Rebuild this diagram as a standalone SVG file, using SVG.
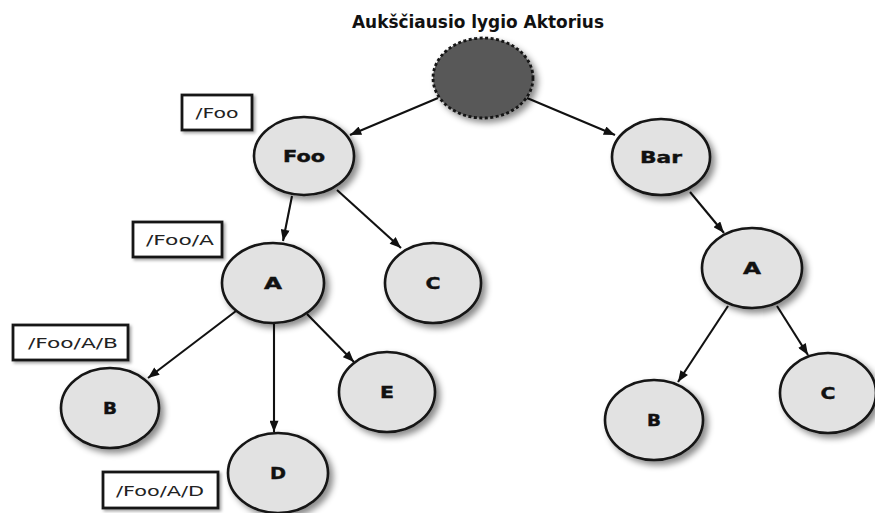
<svg xmlns="http://www.w3.org/2000/svg" width="875" height="513" viewBox="0 0 875 513">
  <defs>
    <filter id="shadow" x="-30%" y="-30%" width="160%" height="160%">
      <feDropShadow dx="4" dy="4" stdDeviation="3" flood-color="#000" flood-opacity="0.45"/>
    </filter>
    <filter id="boxshadow" x="-20%" y="-30%" width="140%" height="160%">
      <feDropShadow dx="2" dy="2" stdDeviation="1.5" flood-color="#000" flood-opacity="0.35"/>
    </filter>
    <marker id="arrow" viewBox="0 0 10 8" refX="10" refY="4" markerWidth="12" markerHeight="9" markerUnits="userSpaceOnUse" orient="auto">
      <path d="M0,0 L10,4 L0,8 Z" fill="#111"/>
    </marker>
  </defs>
  <style>
    .node ellipse { fill: #e2e2e2; stroke: #141414; stroke-width: 2.6; filter: url(#shadow); }
    .root ellipse { fill: #585858; stroke: #141414; stroke-width: 2.8; stroke-dasharray: 3 2.5; filter: url(#shadow); }
    .node text { font-family: "DejaVu Sans", "Liberation Sans", sans-serif; font-weight: bold; font-size: 16px; fill: #111; text-anchor: middle; stroke: #111; stroke-width: 0.4; }
    .path rect { fill: #fff; stroke: #141414; stroke-width: 2.8; filter: url(#boxshadow); }
    .path text { font-family: "DejaVu Sans", "Liberation Sans", sans-serif; font-size: 14.5px; fill: #222; text-anchor: middle; }
    .title { font-family: "DejaVu Sans", "Liberation Sans", sans-serif; font-weight: bold; font-size: 17px; fill: #111; text-anchor: middle; }
    .edges line { stroke: #111; stroke-width: 2.1; marker-end: url(#arrow); }
  </style>

  <rect width="875" height="513" fill="#fff"/>

  <text class="title" x="478" y="28" textLength="252" lengthAdjust="spacingAndGlyphs">Aukščiausio lygio Aktorius</text>

  <!-- connectors -->
  <g id="edges" class="edges">
    <line x1="438" y1="98" x2="350" y2="135"/>
    <line x1="527" y1="98" x2="615" y2="135"/>
    <line x1="292" y1="196" x2="283" y2="241"/>
    <line x1="337" y1="190" x2="401" y2="248"/>
    <line x1="690" y1="192" x2="724" y2="233"/>
    <line x1="236" y1="311" x2="148" y2="378"/>
    <line x1="274" y1="323" x2="274" y2="432"/>
    <line x1="307" y1="314" x2="354" y2="362"/>
    <line x1="728" y1="306" x2="678" y2="382"/>
    <line x1="777" y1="306" x2="808" y2="355"/>
  </g>

  <!-- actor nodes -->
  <g id="root" class="root">
    <ellipse cx="483" cy="78" rx="50" ry="40"/>
  </g>
  <g id="foo" class="node">
    <ellipse cx="304" cy="156" rx="50" ry="39"/>
    <text x="304" y="162" textLength="42" lengthAdjust="spacingAndGlyphs">Foo</text>
  </g>
  <g id="bar" class="node">
    <ellipse cx="661" cy="157" rx="49" ry="38"/>
    <text x="661" y="163" textLength="42" lengthAdjust="spacingAndGlyphs">Bar</text>
  </g>
  <g id="foo-a" class="node">
    <ellipse cx="273" cy="283" rx="51" ry="40"/>
    <text x="273" y="289" textLength="18" lengthAdjust="spacingAndGlyphs">A</text>
  </g>
  <g id="foo-c" class="node">
    <ellipse cx="433" cy="283" rx="48" ry="40"/>
    <text x="433" y="289" textLength="15" lengthAdjust="spacingAndGlyphs">C</text>
  </g>
  <g id="foo-a-b" class="node">
    <ellipse cx="110" cy="408" rx="49" ry="40"/>
    <text x="110" y="414" textLength="14" lengthAdjust="spacingAndGlyphs">B</text>
  </g>
  <g id="foo-a-e" class="node">
    <ellipse cx="387" cy="392" rx="48" ry="40"/>
    <text x="387" y="398" textLength="14" lengthAdjust="spacingAndGlyphs">E</text>
  </g>
  <g id="foo-a-d" class="node">
    <ellipse cx="278" cy="473" rx="50" ry="40"/>
    <text x="278" y="479" textLength="16" lengthAdjust="spacingAndGlyphs">D</text>
  </g>
  <g id="bar-a" class="node">
    <ellipse cx="752" cy="268" rx="50" ry="40"/>
    <text x="752" y="274" textLength="18" lengthAdjust="spacingAndGlyphs">A</text>
  </g>
  <g id="bar-a-b" class="node">
    <ellipse cx="654" cy="420" rx="49" ry="40"/>
    <text x="654" y="426" textLength="14" lengthAdjust="spacingAndGlyphs">B</text>
  </g>
  <g id="bar-a-c" class="node">
    <ellipse cx="828" cy="393" rx="48" ry="40"/>
    <text x="828" y="399" textLength="15" lengthAdjust="spacingAndGlyphs">C</text>
  </g>

  <!-- path labels -->
  <g id="label-foo" class="path">
    <rect x="182" y="95" width="70" height="35"/>
    <text x="217" y="118" textLength="43" lengthAdjust="spacingAndGlyphs">/Foo</text>
  </g>
  <g id="label-foo-a" class="path">
    <rect x="133" y="222" width="89" height="35"/>
    <text x="180" y="245" textLength="68" lengthAdjust="spacingAndGlyphs">/Foo/A</text>
  </g>
  <g id="label-foo-a-b" class="path">
    <rect x="13" y="325" width="115" height="35"/>
    <text x="73" y="348" textLength="90" lengthAdjust="spacingAndGlyphs">/Foo/A/B</text>
  </g>
  <g id="label-foo-a-d" class="path">
    <rect x="103" y="472" width="115" height="36"/>
    <text x="160" y="496" textLength="88" lengthAdjust="spacingAndGlyphs">/Foo/A/D</text>
  </g>
</svg>
